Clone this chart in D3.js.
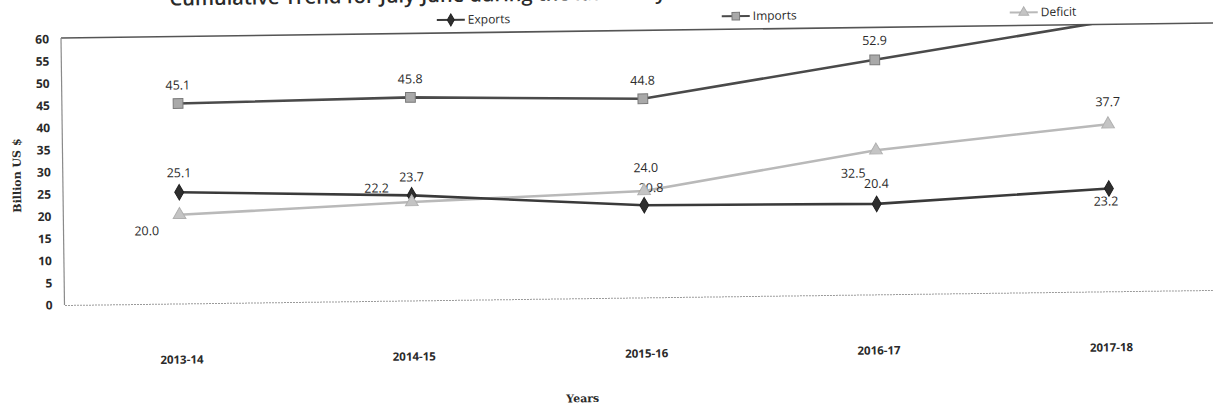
<!DOCTYPE html>
<html>
<head>
<meta charset="utf-8">
<script src="https://cdn.jsdelivr.net/npm/d3@7"></script>
<style>
  body { margin: 0; background: #fff; }
  svg { display: block; }
</style>
</head>
<body>
<div id="chart"></div>
<script>
// chart values
var years = ["2013-14", "2014-15", "2015-16", "2016-17", "2017-18"];
var exportsVals = [25.1, 23.7, 20.8, 20.4, 23.2];
var importsVals = [45.1, 45.8, 44.8, 52.9, 60.9];
var deficitVals = [20.0, 22.2, 24.0, 32.5, 37.7];
var yTickVals = [0, 5, 10, 15, 20, 25, 30, 35, 40, 45, 50, 55, 60];

// where each value label sits relative to its marker
var exportsLabelOff = [[0, -15], [0, -14], [7, -13], [0, -16], [-3, 17]];
var importsLabelOff = [[0, -14], [0, -14], [0, -14], [0, -15], [0, -14]];
var deficitLabelOff = [[-33, 20], [-35, -10], [2, -19], [-23, 27], [0, -18]];

var width = 1213, height = 411;
var plotLeft = 61, plotRight = 1223, plotTop = 39, plotBottom = 305;

var svg = d3.select("#chart").append("svg")
    .attr("width", width)
    .attr("height", height);

// the source is a slightly tilted scan
var g = svg.append("g").attr("transform", "rotate(-0.75,62,38)");

var x = d3.scalePoint().domain(years).range([plotLeft, plotRight]).padding(0.5);
var y = d3.scaleLinear().domain([0, 60]).range([plotBottom, plotTop]);

var series = [
    { name: "Exports", values: exportsVals, off: exportsLabelOff, line: "#3a3a3a", fill: "#2e2e2e", stroke: "#222", sym: d3.symbolDiamond, size: 70 },
    { name: "Imports", values: importsVals, off: importsLabelOff, line: "#4a4a4a", fill: "#a9a9a9", stroke: "#7a7a7a", sym: d3.symbolSquare, size: 95 },
    { name: "Deficit", values: deficitVals, off: deficitLabelOff, line: "#b9b9b9", fill: "#c4c4c4", stroke: "#b0b0b0", sym: d3.symbolTriangle, size: 70 }
];

g.append("defs").append("clipPath").attr("id", "plotclip")
  .append("rect")
    .attr("x", plotLeft).attr("y", plotTop - 1)
    .attr("width", plotRight - plotLeft).attr("height", plotBottom - plotTop + 2);

// title, partly cut off at the top edge
g.append("text")
    .attr("x", 170)
    .attr("y", 7)
    .attr("font-family", "Open Sans, sans-serif")
    .attr("font-size", 20)
    .attr("font-weight", 600)
    .attr("fill", "#2a2a2a")
    .text("Cumulative Trend for July-June during the last five years");

// plot frame
g.append("line").attr("x1", plotLeft).attr("x2", plotRight).attr("y1", plotTop - 1).attr("y2", plotTop - 1)
    .attr("stroke", "#555").attr("stroke-width", 1.6);
g.append("line").attr("x1", plotLeft).attr("x2", plotLeft).attr("y1", plotTop - 1).attr("y2", plotBottom)
    .attr("stroke", "#8a8a8a").attr("stroke-width", 1.2);

// y axis
var yAxis = g.append("g")
    .attr("transform", "translate(" + plotLeft + ",0)")
    .call(d3.axisLeft(y).tickValues(yTickVals).tickSize(0).tickPadding(12));
yAxis.select(".domain").remove();
yAxis.selectAll("text")
    .attr("font-family", "Open Sans, sans-serif")
    .attr("font-size", 12)
    .attr("font-weight", 700)
    .attr("fill", "#2a2a2a");

// x axis
var xAxis = g.append("g")
    .attr("transform", "translate(0," + plotBottom + ")")
    .call(d3.axisBottom(x).tickSize(0).tickPadding(52));
xAxis.select(".domain")
    .attr("stroke", "#9a9a9a")
    .attr("stroke-width", 1)
    .attr("stroke-dasharray", "2,1");
xAxis.selectAll("text")
    .attr("font-family", "Open Sans, sans-serif")
    .attr("font-size", 11.5)
    .attr("font-weight", 700)
    .attr("fill", "#2a2a2a");

// axis titles
g.append("text")
    .attr("transform", "translate(19,175) rotate(-90)")
    .attr("text-anchor", "middle")
    .attr("font-family", "DejaVu Serif, serif")
    .attr("font-size", 11)
    .attr("font-weight", 700)
    .attr("fill", "#2a2a2a")
    .text("Billion US $");

g.append("text")
    .attr("x", 578)
    .attr("y", 409)
    .attr("text-anchor", "middle")
    .attr("font-family", "DejaVu Serif, serif")
    .attr("font-size", 11)
    .attr("font-weight", 700)
    .attr("fill", "#2a2a2a")
    .text("Years");

// lines, markers, labels
var plot = g.append("g").attr("clip-path", "url(#plotclip)");

var line = d3.line()
    .x(function(d, i) { return x(years[i]); })
    .y(function(d) { return y(d); });

// draw light series first so the dark ones sit on top
[series[2], series[1], series[0]].forEach(function(s) {
    plot.append("path")
        .datum(s.values)
        .attr("fill", "none")
        .attr("stroke", s.line)
        .attr("stroke-width", 2.6)
        .attr("d", line);
});

// values past the axis maximum get no marker or label (cut off like the original)
var inRange = function(d) { return d <= y.domain()[1]; };

series.forEach(function(s) {
    var pts = s.values.map(function(v, i) { return { v: v, i: i }; })
        .filter(function(p) { return inRange(p.v); });

    plot.selectAll(".m-" + s.name)
        .data(pts)
        .enter()
        .append("path")
        .attr("class", "m-" + s.name)
        .attr("transform", function(p) { return "translate(" + x(years[p.i]) + "," + y(p.v) + ")"; })
        .attr("d", d3.symbol().type(s.sym).size(s.size))
        .attr("fill", s.fill)
        .attr("stroke", s.stroke)
        .attr("stroke-width", 1);

    plot.selectAll(".l-" + s.name)
        .data(pts)
        .enter()
        .append("text")
        .attr("class", "l-" + s.name)
        .attr("x", function(p) { return x(years[p.i]) + s.off[p.i][0]; })
        .attr("y", function(p) { return y(p.v) + s.off[p.i][1]; })
        .attr("text-anchor", "middle")
        .attr("font-family", "Open Sans, sans-serif")
        .attr("font-size", 12.5)
        .attr("fill", "#2a2a2a")
        .text(function(p) { return p.v.toFixed(1); });
});

// legend
var legendX = [437, 722, 1010];
var legend = g.selectAll(".legend")
    .data(series)
    .enter()
    .append("g")
    .attr("class", "legend")
    .attr("transform", function(d, i) { return "translate(" + legendX[i] + ",25)"; });

legend.append("line")
    .attr("x1", 0).attr("x2", 28)
    .attr("stroke", function(d) { return d.line; })
    .attr("stroke-width", 2);
legend.append("path")
    .attr("transform", "translate(14,0)")
    .attr("d", function(d) { return d3.symbol().type(d.sym).size(d.size * 0.6)(); })
    .attr("fill", function(d) { return d.fill; })
    .attr("stroke", function(d) { return d.stroke; });
legend.append("text")
    .attr("x", 31)
    .attr("y", 4)
    .attr("font-family", "Open Sans, sans-serif")
    .attr("font-size", 12)
    .attr("fill", "#2a2a2a")
    .text(function(d) { return d.name; });
</script>
</body>
</html>
